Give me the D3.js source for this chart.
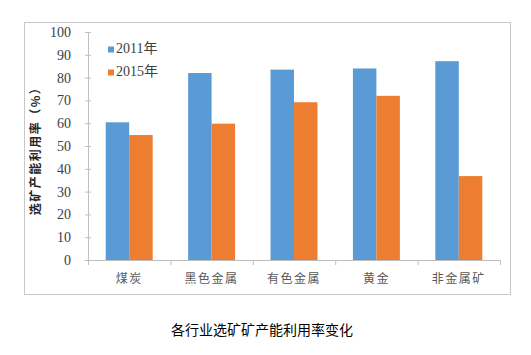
<!DOCTYPE html>
<html><head><meta charset="utf-8">
<script src="https://cdn.jsdelivr.net/npm/d3@7"></script>
<style>body{margin:0;background:#fff}</style>
</head><body>
<script>
const categories = ["煤炭","黑色金属","有色金属","黄金","非金属矿"];
const seriesNames = ["2011年","2015年"];
const values2011 = [60.4, 82.0, 83.5, 84.0, 87.2];
const values2015 = [54.8, 59.8, 69.2, 72.0, 36.8];
const yTicks = [0,10,20,30,40,50,60,70,80,90,100];
const colors = ["#5B9BD5","#ED7D31"];
const title = "各行业选矿矿产能利用率变化";
const yTitle = "选矿产能利用率（%）";

const W=531,H=355;
const svg=d3.select("body").append("svg").attr("width",W).attr("height",H);
svg.append("rect").attr("x",24.5).attr("y",22.5).attr("width",486).attr("height",272)
  .attr("fill","#fff").attr("stroke","#c8c8c8");

const x=d3.scaleBand().domain(categories).range([88,500]).paddingInner(0.43).paddingOuter(0.215);
const y=d3.scaleLinear().domain([0,100]).range([260,32]);
const xs=d3.scaleBand().domain(seriesNames).range([0,x.bandwidth()]);

// y axis
const ya=svg.append("g").attr("transform","translate(88,0)")
  .call(d3.axisLeft(y).tickValues(yTicks).tickSize(3).tickPadding(14));
ya.select(".domain").attr("stroke","#bfbfbf").attr("d","M0.5,32V260");
ya.selectAll(".tick line").attr("stroke","#bfbfbf").attr("x1",3);
ya.selectAll(".tick text").attr("font-family","Liberation Serif").attr("font-size",14).attr("fill","#404040");

// x axis
const xa=svg.append("g").attr("transform","translate(0,260)")
  .call(d3.axisBottom(x).tickSize(0).tickPadding(14));
xa.select(".domain").attr("stroke","#bfbfbf");
xa.selectAll(".tick text").attr("font-family","Noto Sans CJK SC").attr("font-size",12)
  .attr("letter-spacing","1.5px").attr("fill","#595959");
const step=x.step();
const bounds=d3.range(categories.length+1).map(i=>88+i*(412/categories.length));
svg.append("g").selectAll("line").data(bounds).join("line")
  .attr("x1",d=>d+0.5).attr("x2",d=>d+0.5).attr("y1",260).attr("y2",265).attr("stroke","#bfbfbf");

// bars
const data=[values2011,values2015];
data.forEach((vals,si)=>{
  svg.append("g").selectAll("rect").data(categories).join("rect")
    .attr("x",(c)=>x(c)+xs(seriesNames[si]))
    .attr("width",xs.bandwidth())
    .attr("y",(c,i)=>y(vals[i]))
    .attr("height",(c,i)=>y(0)-y(vals[i]))
    .attr("fill",colors[si]);
});

// legend
seriesNames.forEach((n,i)=>{
  const ly=50+i*23;
  svg.append("rect").attr("x",108).attr("y",ly-3.5).attr("width",6).attr("height",6).attr("fill",colors[i]);
  svg.append("text").attr("x",116).attr("y",ly+3).text(n)
    .attr("font-family","Liberation Serif, Noto Sans CJK SC").attr("font-size",14).attr("fill","#404040");
});

// y title
svg.append("text").attr("transform","translate(40,148) rotate(-90)")
  .attr("text-anchor","middle").attr("font-family","Noto Sans CJK SC").attr("font-weight","bold")
  .attr("font-size",12).attr("letter-spacing","1.5px").attr("fill","#262626").text(yTitle);

// title
svg.append("text").attr("x",262).attr("y",335).attr("text-anchor","middle")
  .attr("font-family","Noto Sans CJK SC").attr("font-size",14).attr("fill","#000").text(title);
</script>
</body></html>
